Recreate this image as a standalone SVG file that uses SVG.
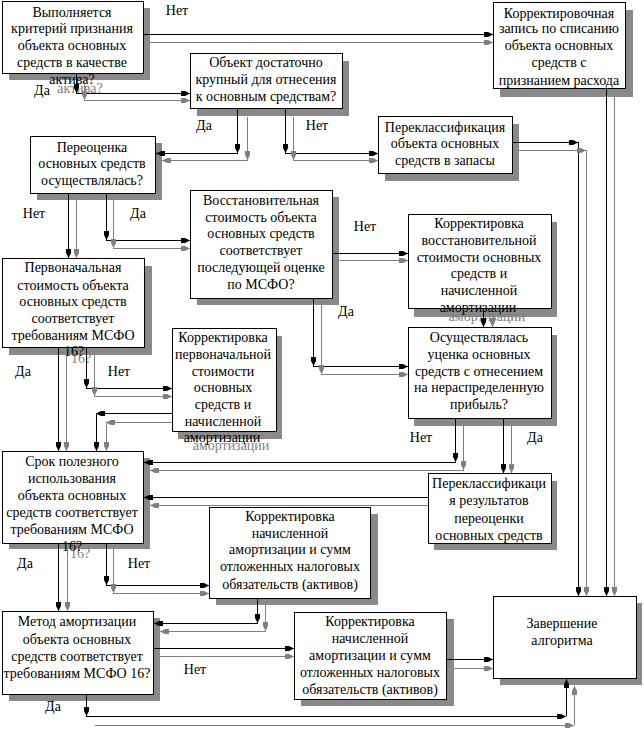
<svg xmlns="http://www.w3.org/2000/svg" width="644" height="729" viewBox="0 0 644 729">
<style>
.sh{fill:#898989}
.box{fill:#fff;stroke:#000;stroke-width:1}
text{font-family:"Liberation Serif","Times New Roman",serif;font-size:14px;text-anchor:middle;fill:#000}
.tg{fill:#808080}
.b{stroke:#000;stroke-width:1;fill:none;marker-end:url(#ab)}
.g{stroke:#808080;stroke-width:1;fill:none;marker-end:url(#ag)}
.n{stroke:none}
</style>
<defs>
<marker id="ab" markerUnits="userSpaceOnUse" markerWidth="10" markerHeight="6" refX="9" refY="3" orient="auto"><path d="M0,0.5 L4,0.5 L9,3 L4,5.5 L0,5.5 z" fill="#000"/></marker>
<marker id="ag" markerUnits="userSpaceOnUse" markerWidth="10" markerHeight="6" refX="9" refY="3" orient="auto"><path d="M0,0.5 L4,0.5 L9,3 L4,5.5 L0,5.5 z" fill="#808080"/></marker>
</defs>
<rect width="644" height="729" fill="#fff"/>

<g id="n1">
<rect class="sh" x="9" y="8" width="141" height="72"/>
<rect class="box" x="2.5" y="1.5" width="141" height="72"/>
<text x="72" y="17">Выполняется</text><text x="72" y="33">критерий признания</text><text x="72" y="50">объекта основных</text><text x="72" y="67">средств в качестве</text>
<text class="tg" x="80" y="93">актива?</text><text x="72" y="84">актива?</text>
</g>
<g id="n2">
<rect class="sh" x="197" y="61" width="152" height="55"/>
<rect class="box" x="190.5" y="53.5" width="152" height="55"/>
<text x="266" y="67">Объект достаточно</text><text x="266" y="84">крупный для отнесения</text><text x="266" y="101">к основным средствам?</text>
</g>
<g id="n3">
<rect class="sh" x="500" y="10" width="133" height="87"/>
<rect class="box" x="493.5" y="2.5" width="132" height="86"/>
<text x="559" y="18">Корректировочная</text><text x="559" y="33">запись по списанию</text><text x="559" y="50">объекта основных</text><text x="559" y="67">средств с</text><text x="559" y="85">признанием расхода</text>
</g>
<g id="n4">
<rect class="sh" x="385" y="124" width="134" height="57"/>
<rect class="box" x="378.5" y="116.5" width="134" height="57"/>
<text x="445" y="132">Переклассификация</text><text x="445" y="148">объекта основных</text><text x="445" y="165">средств в запасы</text>
</g>
<g id="n5">
<rect class="sh" x="37" y="143" width="125" height="57"/>
<rect class="box" x="30.5" y="136.5" width="125" height="57"/>
<text x="92" y="152">Переоценка</text><text x="92" y="168">основных средств</text><text x="92" y="185">осуществлялась?</text>
</g>
<g id="n6">
<rect class="sh" x="197" y="197" width="142" height="108"/>
<rect class="box" x="190.5" y="190.5" width="142" height="108"/>
<text x="261" y="205">Восстановительная</text><text x="261" y="222">стоимость объекта</text><text x="261" y="238">основных средств</text><text x="261" y="255">соответствует</text><text x="261" y="272">последующей оценке</text><text x="261" y="289">по МСФО?</text>
</g>
<g id="n7">
<rect class="sh" x="414" y="222" width="143" height="95"/>
<rect class="box" x="408.5" y="214.5" width="143" height="94"/>
<text x="479" y="228">Корректировка</text><text x="479" y="245">восстановительной</text><text x="479" y="262">стоимости основных</text><text x="479" y="278">средств и</text><text x="479" y="295">начисленной</text>
<text class="tg" x="487" y="321">амортизации</text><text x="478" y="312">амортизации</text>
</g>
<g id="n8">
<rect class="sh" x="414" y="335" width="143" height="91"/>
<rect class="box" x="408.5" y="327.5" width="143" height="91"/>
<text x="479" y="342">Осуществлялась</text><text x="479" y="359">уценка основных</text><text x="479" y="376">средств с отнесением</text><text x="479" y="392">на нераспределенную</text><text x="479" y="409">прибыль?</text>
</g>
<g id="n9">
<rect class="sh" x="9" y="266" width="143" height="89"/>
<rect class="box" x="2.5" y="258.5" width="142" height="89"/>
<text x="73" y="272">Первоначальная</text><text x="73" y="290">стоимость объекта</text><text x="73" y="306">основных средств</text><text x="73" y="323">соответствует</text><text x="73" y="340">требованиям МСФО</text>
<text class="tg" x="81" y="363">16?</text><text x="74" y="356">16?</text>
</g>
<g id="n10">
<rect class="sh" x="178" y="336" width="104" height="103"/>
<rect class="box" x="172.5" y="328.5" width="104" height="103"/>
<text x="223" y="342">Корректировка</text><text x="223" y="359">первоначальной</text><text x="223" y="376">стоимости</text><text x="223" y="392">основных</text><text x="223" y="409">средств и</text><text x="223" y="426">начисленной</text>
<text class="tg" x="231" y="450">амортизации</text><text x="222" y="442">амортизации</text>
</g>
<g id="n11">
<rect class="sh" x="9" y="458" width="141" height="91"/>
<rect class="box" x="2.5" y="451.5" width="141" height="92"/>
<text x="72" y="466">Срок полезного</text><text x="72" y="483">использования</text><text x="72" y="500">объекта основных</text><text x="72" y="517">средств соответствует</text><text x="72" y="534">требованиям МСФО</text>
<text class="tg" x="80" y="558">16?</text><text x="72" y="551">16?</text>
</g>
<g id="n12">
<rect class="sh" x="434" y="481" width="123" height="69"/>
<rect class="box" x="428.5" y="473.5" width="123" height="70"/>
<text x="489" y="488">Переклассификаци</text><text x="489" y="505">я результатов</text><text x="489" y="523">переоценки</text><text x="489" y="540">основных средств</text>
</g>
<g id="n13">
<rect class="sh" x="216" y="514" width="162" height="91"/>
<rect class="box" x="209.5" y="507.5" width="161" height="91"/>
<text x="290" y="521">Корректировка</text><text x="290" y="538">начисленной</text><text x="290" y="554">амортизации и сумм</text><text x="290" y="571">отложенных налоговых</text><text x="290" y="589">обязательств (активов)</text>
</g>
<g id="n14">
<rect class="sh" x="9" y="618" width="151" height="83"/>
<rect class="box" x="2.5" y="611.5" width="151" height="83"/>
<text x="77" y="626">Метод амортизации</text><text x="77" y="644">объекта основных</text><text x="77" y="661">средств соответствует</text><text x="77" y="678">требованиям МСФО 16?</text>
</g>
<g id="n15">
<rect class="sh" x="301" y="619" width="153" height="87"/>
<rect class="box" x="294.5" y="612.5" width="152" height="87"/>
<text x="370" y="626">Корректировка</text><text x="370" y="643">начисленной</text><text x="370" y="660">амортизации и сумм</text><text x="370" y="677">отложенных налоговых</text><text x="370" y="694">обязательств (активов)</text>
</g>
<g id="n16">
<rect class="sh" x="500" y="603" width="142" height="82"/>
<rect class="box" x="493.5" y="596.5" width="143" height="82"/>
<text x="562" y="628">Завершение</text><text x="562" y="645">алгоритма</text>
</g>

<g id="connectors" shape-rendering="crispEdges">
<line class="b" x1="144" y1="34.5" x2="493" y2="34.5"/>
<line class="g" x1="150" y1="42.5" x2="493" y2="42.5"/>
<line class="b" x1="76.5" y1="74" x2="76.5" y2="93"/><line class="b" x1="76" y1="93.5" x2="190" y2="93.5"/>
<line class="g" x1="84.5" y1="81" x2="84.5" y2="100"/><line class="g" x1="84" y1="100.5" x2="190" y2="100.5"/>
<line class="b" x1="237.5" y1="109" x2="237.5" y2="153"/><line class="b" x1="238" y1="153.5" x2="156" y2="153.5"/>
<line class="g" x1="247.5" y1="117" x2="247.5" y2="160"/><line class="g" x1="248" y1="160.5" x2="162" y2="160.5"/>
<line class="b" x1="285.5" y1="109" x2="285.5" y2="153"/><line class="b" x1="285" y1="153.5" x2="378" y2="153.5"/>
<line class="g" x1="293.5" y1="117" x2="293.5" y2="160"/><line class="g" x1="293" y1="160.5" x2="378" y2="160.5"/>
<line class="b" x1="513" y1="142.5" x2="578" y2="142.5"/><line class="b" x1="578.5" y1="142" x2="578.5" y2="596"/>
<line class="g" x1="519" y1="150.5" x2="586" y2="150.5"/><line class="g" x1="586.5" y1="150" x2="586.5" y2="596"/>
<line class="b" x1="606.5" y1="89" x2="606.5" y2="596"/>
<line class="g" x1="614.5" y1="97" x2="614.5" y2="596"/>
<line class="b" x1="68.5" y1="194" x2="68.5" y2="258"/>
<line class="g" x1="76.5" y1="200" x2="76.5" y2="258"/>
<line class="b" x1="106.5" y1="194" x2="106.5" y2="240"/><line class="b" x1="106" y1="240.5" x2="190" y2="240.5"/>
<line class="g" x1="113.5" y1="200" x2="113.5" y2="248"/><line class="g" x1="113" y1="248.5" x2="190" y2="248.5"/>
<line class="b" x1="333" y1="253.5" x2="408" y2="253.5"/>
<line class="g" x1="339" y1="260.5" x2="408" y2="260.5"/>
<line class="b" x1="313.5" y1="299" x2="313.5" y2="366"/><line class="b" x1="313" y1="366.5" x2="408" y2="366.5"/>
<line class="g" x1="321.5" y1="305" x2="321.5" y2="374"/><line class="g" x1="321" y1="374.5" x2="408" y2="374.5"/>
<line class="b" x1="483.5" y1="309" x2="483.5" y2="327"/>
<line class="g" x1="492.5" y1="317" x2="492.5" y2="327"/>
<line class="b" x1="455.5" y1="419" x2="455.5" y2="462"/><line class="b" x1="456" y1="462.5" x2="144" y2="462.5"/>
<line class="g" x1="463.5" y1="426" x2="463.5" y2="470"/><line class="g" x1="464" y1="470.5" x2="150" y2="470.5"/>
<line class="b" x1="503.5" y1="419" x2="503.5" y2="473"/>
<line class="g" x1="511.5" y1="426" x2="511.5" y2="473"/>
<line class="b" x1="428" y1="497.5" x2="144" y2="497.5"/>
<line class="g" x1="428" y1="505.5" x2="150" y2="505.5"/>
<line class="b" x1="58.5" y1="348" x2="58.5" y2="451"/>
<line class="g" x1="66.5" y1="355" x2="66.5" y2="451"/>
<line class="b" x1="86.5" y1="348" x2="86.5" y2="388"/><line class="b" x1="86" y1="388.5" x2="172" y2="388.5"/>
<line class="g" x1="94.5" y1="355" x2="94.5" y2="396"/><line class="g" x1="94" y1="396.5" x2="172" y2="396.5"/>
<line class="b" x1="172" y1="413.5" x2="96" y2="413.5"/><line class="b" x1="96.5" y1="413" x2="96.5" y2="451"/>
<line class="g" x1="172" y1="422.5" x2="106" y2="422.5"/><line class="g" x1="106.5" y1="422" x2="106.5" y2="451"/>
<line class="b" x1="58.5" y1="544" x2="58.5" y2="611"/>
<line class="g" x1="67.5" y1="549" x2="67.5" y2="611"/>
<line class="b" x1="106.5" y1="544" x2="106.5" y2="585"/><line class="b" x1="106" y1="585.5" x2="209" y2="585.5"/>
<line class="g" x1="113.5" y1="549" x2="113.5" y2="593"/><line class="g" x1="113" y1="593.5" x2="209" y2="593.5"/>
<line class="b" x1="257.5" y1="599" x2="257.5" y2="623"/><line class="b" x1="258" y1="623.5" x2="154" y2="623.5"/>
<line class="g" x1="265.5" y1="605" x2="265.5" y2="631"/><line class="g" x1="266" y1="631.5" x2="160" y2="631.5"/>
<line class="b" x1="154" y1="648.5" x2="294" y2="648.5"/>
<line class="g" x1="160" y1="656.5" x2="294" y2="656.5"/>
<line class="b" x1="447" y1="659.5" x2="493" y2="659.5"/>
<line class="g" x1="454" y1="668.5" x2="493" y2="668.5"/>
<line class="b" x1="86.5" y1="695" x2="86.5" y2="716"/><line class="b" x1="86" y1="716.5" x2="566" y2="716.5"/><line class="b" x1="566.5" y1="716" x2="566.5" y2="679"/>
<line class="g" x1="95" y1="725.5" x2="574" y2="725.5"/><line class="g" x1="574.5" y1="725" x2="574.5" y2="686"/>
</g>

<g id="labels">
<text x="177" y="15">Нет</text>
<text x="42" y="95">Да</text>
<text x="204" y="130">Да</text>
<text x="317" y="130">Нет</text>
<text x="34" y="218">Нет</text>
<text x="138" y="218">Да</text>
<text x="365" y="231">Нет</text>
<text x="346" y="316">Да</text>
<text x="23" y="376">Да</text>
<text x="119" y="376">Нет</text>
<text x="421" y="442">Нет</text>
<text x="535" y="442">Да</text>
<text x="25" y="568">Да</text>
<text x="139" y="568">Нет</text>
<text x="195" y="674">Нет</text>
<text x="53" y="711">Да</text>
</g>
</svg>
